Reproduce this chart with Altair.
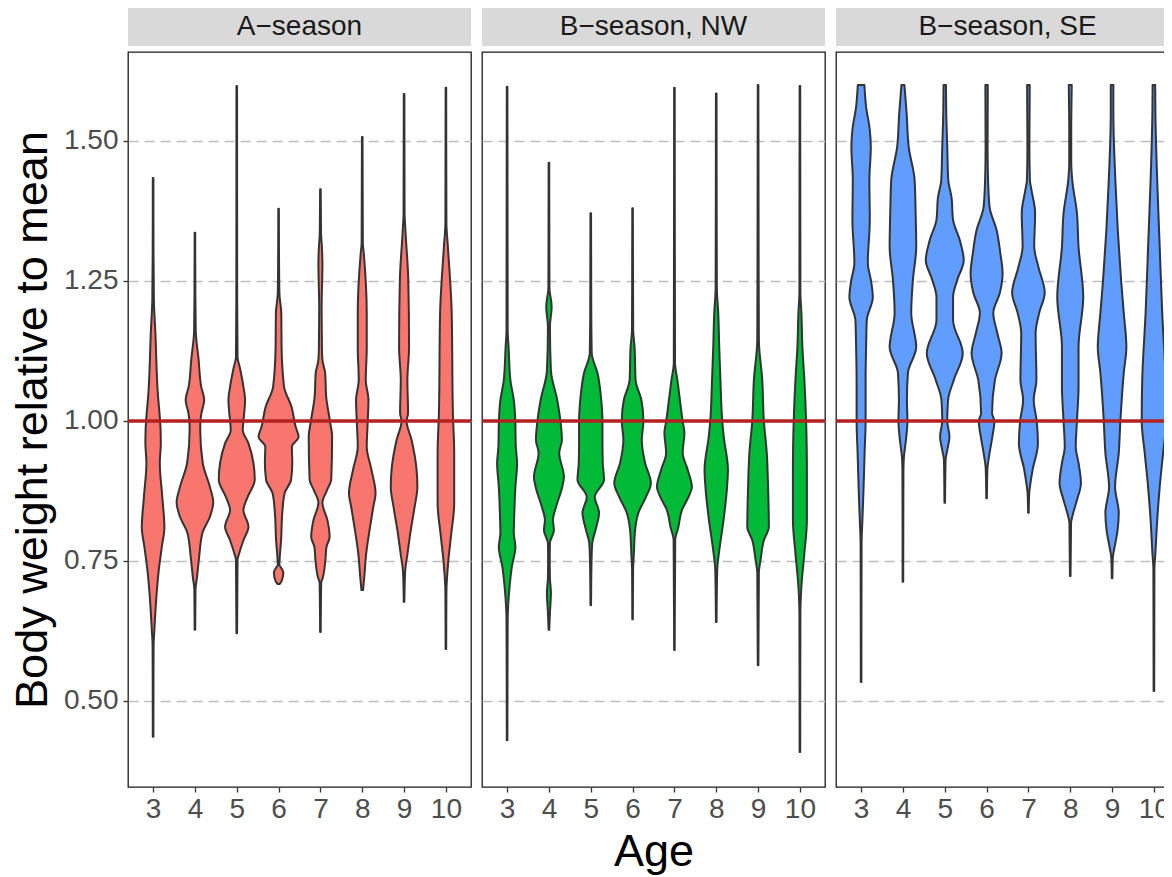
import altair as alt
import pandas as pd

# ---------------- data ----------------
PANELS = ["A\u2212season", "B\u2212season, NW", "B\u2212season, SE"]
FILLS = ["#F8766D", "#00BA38", "#619CFF"]
AGES = [3, 4, 5, 6, 7, 8, 9, 10]
Y_TICKS = [0.5, 0.75, 1.0, 1.25, 1.5]
REFERENCE = 1.0
X_TITLE = "Age"
Y_TITLE = "Body weight relative to mean"

# violin outlines: (body weight, density half-width; 41.83 density units = one age step)
A3 = [(0.436, 0.3), (0.60, 0.5), (0.627, 1.3), (0.686, 3.3), (0.734, 5.7), (0.775, 8.7), (0.81, 11.3), (0.864, 9.2), (0.925, 6.7), (0.96, 7.7), (0.984, 7.5), (1.0, 7.0), (1.05, 4.7), (1.157, 2.3), (1.216, 0.8), (1.30, 0.4), (1.434, 0.3)]
A4 = [(0.627, 0.3), (0.70, 0.6), (0.72, 2.0), (0.757, 4.2), (0.80, 7.5), (0.829, 15.0), (0.855, 18.3), (0.882, 15.0), (0.925, 7.8), (0.984, 5.3), (1.0, 5.5), (1.014, 6.5), (1.0375, 9.3), (1.061, 6.3), (1.109, 3.7), (1.162, 0.8), (1.25, 0.4), (1.336, 0.3)]
A5 = [(0.621, 0.3), (0.752, 0.8), (0.764, 2.5), (0.787, 6.7), (0.811, 11.7), (0.841, 6.7), (0.864, 10.8), (0.895, 18.0), (0.925, 16.7), (0.96, 11.7), (0.984, 6.0), (1.0, 6.7), (1.0375, 8.3), (1.061, 6.7), (1.096, 3.0), (1.114, 0.8), (1.25, 0.4), (1.598, 0.3)]
A6 = [(0.709, 1.2), (0.714, 3.0), (0.729, 4.7), (0.738, 2.5), (0.743, 0.8), (0.752, 1.0), (0.787, 2.5), (0.836, 3.7), (0.871, 6.0), (0.895, 12.5), (0.925, 13.7), (0.954, 13.3), (0.972, 20.0), (0.99, 17.0), (1.025, 13.0), (1.061, 5.5), (1.132, 3.0), (1.193, 2.7), (1.228, 0.8), (1.30, 0.4), (1.379, 0.3)]
A7 = [(0.623, 0.3), (0.711, 0.8), (0.721, 2.5), (0.752, 5.0), (0.775, 6.0), (0.793, 9.2), (0.823, 7.0), (0.854, 2.0), (0.877, 6.7), (0.895, 10.8), (0.972, 11.7), (1.0, 9.5), (1.043, 5.8), (1.086, 4.7), (1.109, 2.0), (1.132, 1.5), (1.2, 1.2), (1.28, 2.0), (1.311, 1.5), (1.336, 0.6), (1.414, 0.3)]
A8 = [(0.698, 0.8), (0.721, 2.0), (0.764, 4.0), (0.805, 7.3), (0.846, 11.0), (0.871, 13.3), (0.913, 9.2), (0.954, 4.5), (1.0, 5.5), (1.0375, 6.2), (1.073, 3.5), (1.13, 4.5), (1.193, 4.5), (1.30, 1.5), (1.318, 0.6), (1.507, 0.3)]
A9 = [(0.677, 0.3), (0.729, 1.0), (0.764, 3.5), (0.805, 6.7), (0.846, 10.5), (0.882, 13.3), (0.913, 12.5), (0.966, 7.5), (1.0, 2.5), (1.014, 4.0), (1.073, 3.3), (1.132, 5.0), (1.252, 4.2), (1.336, 1.5), (1.371, 0.5), (1.584, 0.3)]
A10 = [(0.593, 0.3), (0.693, 0.5), (0.752, 2.5), (0.793, 5.0), (0.854, 8.3), (0.943, 8.3), (1.014, 7.0), (1.193, 5.8), (1.311, 2.0), (1.354, 0.5), (1.595, 0.3)]

N3 = [(0.43, 0.3), (0.645, 0.6), (0.668, 1.0), (0.704, 2.5), (0.739, 4.7), (0.775, 8.3), (0.80, 6.7), (0.823, 7.0), (0.882, 8.3), (0.925, 10.0), (0.954, 8.7), (1.0, 8.2), (1.0375, 6.7), (1.073, 3.3), (1.132, 1.5), (1.162, 0.6), (1.597, 0.3)]
N4 = [(0.627, 0.3), (0.657, 1.0), (0.693, 2.0), (0.72, 1.0), (0.752, 0.8), (0.782, 1.0), (0.805, 5.0), (0.823, 4.0), (0.846, 7.0), (0.882, 13.3), (0.90, 15.0), (0.943, 10.3), (0.966, 13.0), (1.0, 11.5), (1.0375, 8.3), (1.09, 2.0), (1.168, 1.0), (1.204, 2.7), (1.239, 0.5), (1.461, 0.3)]
N5 = [(0.671, 0.3), (0.752, 0.8), (0.782, 1.5), (0.805, 4.7), (0.836, 8.3), (0.864, 4.0), (0.895, 13.3), (0.925, 12.0), (0.966, 11.7), (1.0, 11.7), (1.0375, 10.5), (1.086, 6.7), (1.121, 1.0), (1.2, 0.5), (1.371, 0.3)]
N6 = [(0.646, 0.3), (0.734, 0.5), (0.764, 1.3), (0.805, 2.5), (0.836, 5.8), (0.864, 13.3), (0.889, 18.3), (0.925, 12.5), (0.966, 9.2), (1.0, 10.8), (1.0375, 8.8), (1.073, 3.0), (1.132, 2.0), (1.162, 0.6), (1.38, 0.3)]
N7 = [(0.591, 0.3), (0.787, 0.8), (0.811, 4.0), (0.841, 7.5), (0.864, 14.0), (0.882, 17.5), (0.913, 13.3), (0.943, 8.3), (0.979, 10.0), (1.0, 8.2), (1.0375, 5.5), (1.073, 3.0), (1.104, 0.6), (1.595, 0.3)]
N8 = [(0.641, 0.3), (0.734, 1.0), (0.775, 3.5), (0.823, 7.3), (0.882, 10.8), (0.913, 11.7), (0.972, 7.5), (1.0, 6.0), (1.073, 4.2), (1.132, 3.0), (1.193, 2.0), (1.239, 0.6), (1.585, 0.3)]
N9 = [(0.564, 0.3), (0.729, 0.8), (0.752, 2.5), (0.787, 5.8), (0.811, 10.8), (0.882, 10.0), (0.943, 8.7), (1.0, 5.8), (1.073, 4.2), (1.145, 0.8), (1.6, 0.3)]
N10 = [(0.409, 0.3), (0.657, 0.5), (0.704, 1.5), (0.764, 4.5), (0.823, 7.0), (0.913, 7.0), (1.0, 6.2), (1.073, 4.5), (1.132, 2.5), (1.193, 1.5), (1.229, 0.5), (1.598, 0.3)]

S3 = [(0.534, 0.3), (0.782, 0.5), (0.823, 1.3), (0.882, 2.5), (0.943, 3.5), (1.0, 4.5), (1.073, 4.5), (1.132, 5.0), (1.18, 5.7), (1.221, 11.7), (1.25, 10.0), (1.282, 6.7), (1.359, 8.7), (1.43, 8.3), (1.489, 9.7), (1.52, 8.7), (1.561, 5.0), (1.6, 3.3)]
S4 = [(0.713, 0.3), (0.913, 0.5), (0.936, 1.0), (0.966, 3.0), (1.0, 4.5), (1.0375, 4.0), (1.086, 5.0), (1.132, 13.3), (1.193, 8.3), (1.252, 10.0), (1.311, 13.3), (1.371, 12.7), (1.43, 11.7), (1.489, 5.8), (1.55, 3.7), (1.6, 1.5)]
S5 = [(0.854, 0.3), (0.93, 0.8), (0.948, 2.5), (0.972, 4.7), (1.0, 2.5), (1.0375, 3.3), (1.073, 9.0), (1.121, 18.0), (1.18, 8.3), (1.221, 8.3), (1.252, 12.5), (1.287, 19.0), (1.323, 15.0), (1.359, 8.3), (1.4, 6.7), (1.43, 3.5), (1.489, 2.5), (1.55, 1.5), (1.6, 1.2)]
S6 = [(0.862, 0.3), (0.913, 0.8), (0.943, 3.0), (0.972, 5.8), (1.0, 7.8), (1.014, 5.5), (1.073, 8.3), (1.121, 15.0), (1.157, 10.7), (1.193, 6.7), (1.229, 13.3), (1.264, 16.0), (1.3, 13.7), (1.341, 10.0), (1.382, 3.0), (1.43, 1.5), (1.489, 1.0), (1.6, 1.2)]
S7 = [(0.836, 0.3), (0.871, 0.8), (0.882, 1.5), (0.913, 4.2), (0.96, 9.5), (1.0, 8.3), (1.0375, 5.3), (1.073, 8.0), (1.157, 7.2), (1.193, 10.8), (1.229, 16.3), (1.275, 10.0), (1.311, 5.8), (1.371, 6.7), (1.413, 3.0), (1.43, 1.5), (1.489, 1.0), (1.6, 1.3)]
S8 = [(0.723, 0.3), (0.818, 0.8), (0.829, 2.0), (0.859, 6.7), (0.889, 10.7), (0.925, 8.3), (0.954, 5.5), (1.0, 6.7), (1.061, 8.3), (1.132, 8.3), (1.221, 13.0), (1.311, 8.3), (1.371, 6.7), (1.43, 2.0), (1.461, 1.0), (1.52, 1.0), (1.6, 1.5)]
S9 = [(0.719, 0.3), (0.757, 0.8), (0.77, 2.0), (0.805, 5.5), (0.836, 6.7), (0.882, 3.0), (0.943, 6.7), (1.0, 8.3), (1.086, 11.7), (1.132, 14.3), (1.193, 11.7), (1.252, 9.0), (1.341, 5.7), (1.43, 3.3), (1.55, 1.3), (1.6, 1.3)]
S10 = [(0.518, 0.3), (0.734, 0.5), (0.764, 1.5), (0.823, 3.3), (0.882, 5.8), (0.943, 9.2), (1.0, 12.2), (1.073, 11.7), (1.193, 8.3), (1.311, 5.8), (1.43, 3.3), (1.55, 1.5), (1.6, 1.3)]

A_SEASON = [A3, A4, A5, A6, A7, A8, A9, A10]
NW_SEASON = [N3, N4, N5, N6, N7, N8, N9, N10]
SE_SEASON = [S3, S4, S5, S6, S7, S8, S9, S10]
DENSITY_PER_AGE = 41.83

rows = []
for panel, profiles in zip(PANELS, [A_SEASON, NW_SEASON, SE_SEASON]):
    for age, prof in zip(AGES, profiles):
        for y, w in prof:
            rows.append({"panel": panel, "age": age, "y": y, "w": w})
df = pd.DataFrame(rows).sort_values(["panel", "age", "y"]).reset_index(drop=True)

# ---------------- chart ----------------
FONT = "Liberation Sans"
W, H = 343, 735
X_SCALE = alt.Scale(domain=[2.4, 10.6], nice=False, zero=False)
Y_SCALE = alt.Scale(domain=[0.3464, 1.6589], nice=False, zero=False)


def make_panel(i):
    name = PANELS[i]
    first = i == 0
    d = df[df["panel"] == name]

    yaxis = alt.Axis(
        values=Y_TICKS, format=".2f", grid=True, gridDash=[10, 6], gridColor="#BEBEBE",
        gridWidth=1.5, domain=False, labels=first, ticks=first, tickSize=5,
        tickColor="#333333", tickWidth=1.3, labelFontSize=28, labelColor="#4D4D4D",
        labelFont=FONT, labelPadding=5, titleFontSize=45, titleFont=FONT,
        titleColor="#000000", titleFontWeight="normal", titlePadding=8,
    )
    xaxis = alt.Axis(
        values=AGES, grid=False, domain=False, ticks=True, tickSize=5, tickColor="#333333",
        tickWidth=1.3, labelFontSize=28, labelColor="#4D4D4D", labelFont=FONT,
        labelPadding=3, titleFontSize=45, titleFont=FONT, titleColor="#000000",
        titleFontWeight="normal", titlePadding=6,
    )
    y_enc = alt.Y("y:Q", scale=Y_SCALE, axis=yaxis, title=Y_TITLE if first else None)

    strip_df = pd.DataFrame({"label": [name]})
    strip = alt.Chart(strip_df).mark_rect(fill="#D9D9D9").encode(
        x=alt.value(0), x2=alt.value(W), y=alt.value(-47), y2=alt.value(-6)
    )
    strip_text = alt.Chart(strip_df).mark_text(
        font=FONT, fontSize=28, color="#1A1A1A", baseline="middle", align="center"
    ).encode(x=alt.value(W / 2), y=alt.value(-25), text="label:N")

    violins = alt.Chart(d).transform_calculate(
        xl=f"datum.age - datum.w / {DENSITY_PER_AGE}",
        xr=f"datum.age + datum.w / {DENSITY_PER_AGE}",
    ).mark_area(
        orient="horizontal", interpolate="monotone", fill=FILLS[i], stroke="#333333",
        strokeWidth=2, strokeJoin="round", fillOpacity=1,
    ).encode(
        y=y_enc,
        x=alt.X("xl:Q", scale=X_SCALE, axis=xaxis, title=X_TITLE if i == 1 else None),
        x2="xr:Q",
        detail="age:N",
    )

    ref = alt.Chart(pd.DataFrame({"y": [REFERENCE]})).mark_rule(
        color="#B22222", strokeWidth=3.5
    ).encode(y=y_enc)

    return alt.layer(strip, strip_text, violins, ref).properties(width=W, height=H)


# fixed page-sized canvas (1156 x 869): plot origin placed by the padding,
# the third panel runs past the right edge, as in the reference
chart = alt.hconcat(make_panel(0), make_panel(1), make_panel(2), spacing=5).properties(
    autosize=alt.AutoSizeParams(type="none"),
    padding={"left": 120, "top": 44, "right": 1036, "bottom": 825},
    background="white",
).configure_view(stroke="#1A1A1A", strokeWidth=1.3)

chart.save("out.html", embed_options={"renderer": "svg", "actions": False})
